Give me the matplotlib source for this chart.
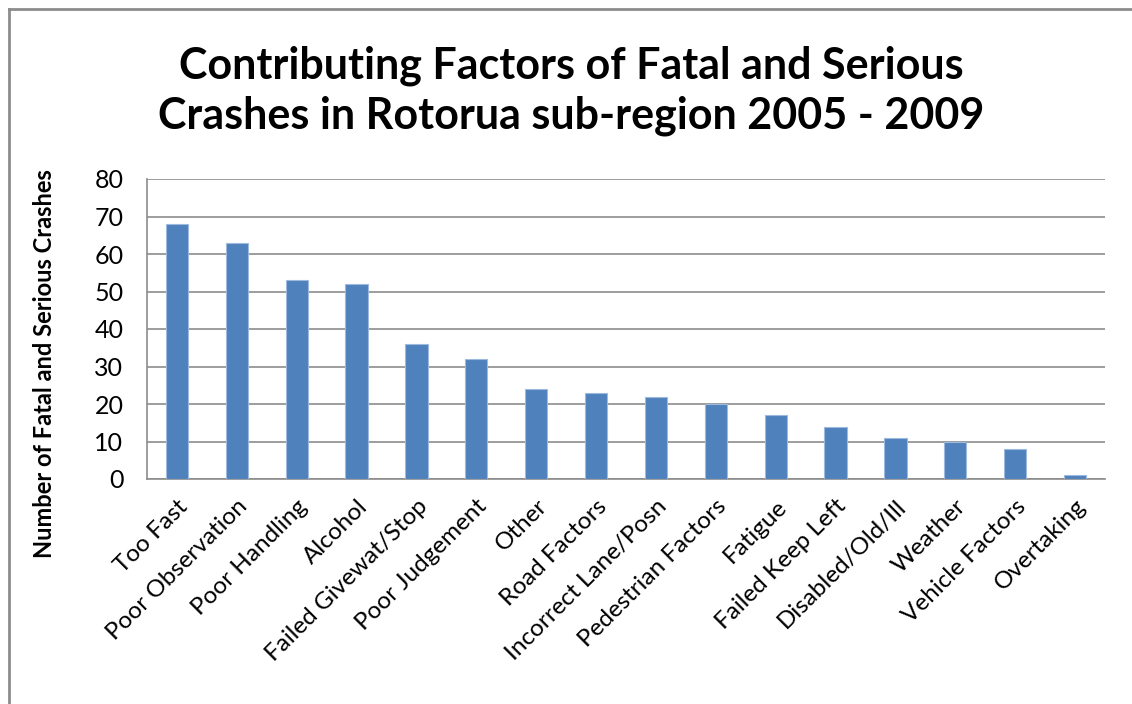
import matplotlib.pyplot as plt
from matplotlib.lines import Line2D

# Crash factor counts, Rotorua sub-region 2005-2009
factors = ['Too Fast', 'Poor Observation', 'Poor Handling', 'Alcohol',
           'Failed Givewat/Stop', 'Poor Judgement', 'Other', 'Road Factors',
           'Incorrect Lane/Posn', 'Pedestrian Factors', 'Fatigue',
           'Failed Keep Left', 'Disabled/Old/Ill', 'Weather',
           'Vehicle Factors', 'Overtaking']
crashes = [68, 63, 53, 52, 36, 32, 24, 23, 22, 20, 17, 14, 11, 10, 8, 1]
yticks = [0, 10, 20, 30, 40, 50, 60, 70, 80]

plt.rcParams['font.family'] = ['Lato', 'DejaVu Sans']

W, H = 1132, 704
fig = plt.figure(figsize=(W / 100, H / 100), dpi=100)
ax = fig.add_axes([147 / W, 1 - 479 / H, (1105 - 147) / W, 300 / H])

x = range(len(factors))
ax.bar(x, crashes, width=0.37, color='#4F81BD', edgecolor='#9DB9DE',
       linewidth=0.8, zorder=3)

ax.set_xlim(-0.5, len(factors) - 0.5)
ax.set_ylim(0, 80)
ax.set_yticks(yticks)
ax.set_yticklabels([str(v) for v in yticks], fontsize=18)
ax.set_xticks(list(x))
ax.set_xticklabels(factors, rotation=45, ha='right', rotation_mode='anchor',
                   fontsize=17.5)
ax.tick_params(axis='both', length=0)
ax.tick_params(axis='y', pad=17)
ax.tick_params(axis='x', pad=12)

ax.grid(axis='y', color='#8c8c8c', linewidth=1.2, zorder=0)
for side in ['top', 'right']:
    ax.spines[side].set_visible(False)
ax.spines['left'].set_color('#8c8c8c')
ax.spines['bottom'].set_color('#8c8c8c')
ax.spines['left'].set_linewidth(1.2)
ax.spines['bottom'].set_linewidth(1.2)

fig.text(45 / W, 1 - 364 / H, 'Number of Fatal and Serious Crashes',
         rotation=90, ha='center', va='center', fontsize=17,
         fontweight='bold')

fig.text(571 / W, 1 - 91 / H,
         'Contributing Factors of Fatal and Serious\nCrashes in Rotorua sub-region 2005 - 2009',
         ha='center', va='center', fontsize=31, fontweight='bold',
         linespacing=1.3)

# outer chart frame (left and top edges)
fig.add_artist(Line2D([9 / W, 9 / W], [0, 1 - 9 / H], transform=fig.transFigure,
                      color='#8c8c8c', linewidth=2))
fig.add_artist(Line2D([9 / W, 1], [1 - 9 / H, 1 - 9 / H], transform=fig.transFigure,
                      color='#8c8c8c', linewidth=2))

fig.savefig('out.png', dpi=100)
